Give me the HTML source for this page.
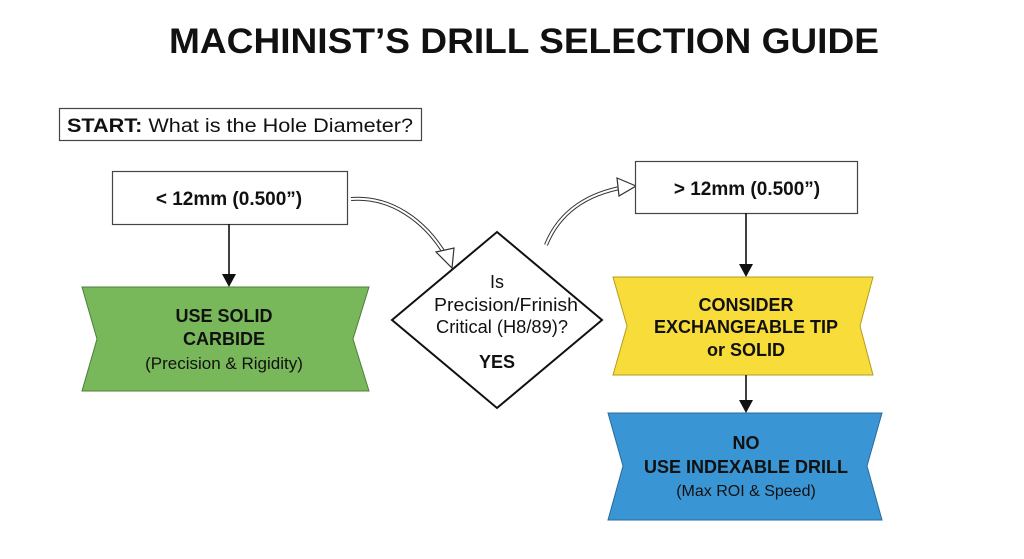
<!DOCTYPE html>
<html><head><style>
body{margin:0;width:1024px;height:559px;background:#fff;overflow:hidden;font-family:"Liberation Sans",sans-serif}
svg{position:absolute;left:0;top:0}
text{font-family:"Liberation Sans",sans-serif;fill:#111}
</style></head><body>
<svg width="1024" height="559" viewBox="0 0 1024 559">
<text x="524" y="53" text-anchor="middle" font-size="35" font-weight="bold" textLength="710" lengthAdjust="spacingAndGlyphs">MACHINIST’S DRILL SELECTION GUIDE</text>
<rect x="59.5" y="108.5" width="362" height="32" fill="#fff" stroke="#444" stroke-width="1.2"/>
<text x="240" y="132" text-anchor="middle" font-size="19" textLength="346" lengthAdjust="spacingAndGlyphs"><tspan font-weight="bold">START:</tspan> What is the Hole Diameter?</text>
<rect x="112.5" y="171.5" width="235" height="53" fill="#fff" stroke="#444" stroke-width="1.2"/>
<text x="229" y="205" text-anchor="middle" font-size="19" font-weight="bold">&lt; 12mm (0.500”)</text>
<line x1="229" y1="224" x2="229" y2="276" stroke="#111" stroke-width="1.6"/>
<polygon points="222,274 236,274 229,287" fill="#111"/>
<polygon points="82,287 369,287 353,339 369,391 82,391 97,339" fill="#78b75a" stroke="#4f7f3a" stroke-width="1"/>
<text x="224" y="322" text-anchor="middle" font-size="18" font-weight="bold">USE SOLID</text>
<text x="224" y="345" text-anchor="middle" font-size="18" font-weight="bold">CARBIDE</text>
<text x="224" y="369" text-anchor="middle" font-size="17">(Precision &amp; Rigidity)</text>
<polygon points="497,232 602,320 497,408 392,320" fill="#fff" stroke="#111" stroke-width="2"/>
<text x="497" y="288" text-anchor="middle" font-size="18">Is</text>
<text x="506" y="311" text-anchor="middle" font-size="18" textLength="144" lengthAdjust="spacingAndGlyphs">Precision/Frinish</text>
<text x="502" y="333" text-anchor="middle" font-size="18" textLength="132" lengthAdjust="spacingAndGlyphs">Critical (H8/89)?</text>
<text x="497" y="368" text-anchor="middle" font-size="18" font-weight="bold">YES</text>
<path d="M351,199 C390,196 425,220 446,256" fill="none" stroke="#333" stroke-width="4"/>
<path d="M351,199 C390,196 425,220 446,256" fill="none" stroke="#fff" stroke-width="2"/>
<polygon points="436,252 452,268 454,248" fill="#fff" stroke="#333" stroke-width="1.2"/>
<path d="M546,245 C560,210 590,193 625,187" fill="none" stroke="#333" stroke-width="4"/>
<path d="M546,245 C560,210 590,193 625,187" fill="none" stroke="#fff" stroke-width="2"/>
<polygon points="617,178 636,186 619,196" fill="#fff" stroke="#333" stroke-width="1.2"/>
<rect x="635.5" y="161.5" width="222" height="52" fill="#fff" stroke="#444" stroke-width="1.2"/>
<text x="747" y="195" text-anchor="middle" font-size="19" font-weight="bold">&gt; 12mm (0.500”)</text>
<line x1="746" y1="213" x2="746" y2="266" stroke="#111" stroke-width="1.6"/>
<polygon points="739,264 753,264 746,277" fill="#111"/>
<polygon points="613,277 873,277 860,326 873,375 613,375 627,326" fill="#f7dc3a" stroke="#b39d20" stroke-width="1"/>
<text x="746" y="311" text-anchor="middle" font-size="18" font-weight="bold">CONSIDER</text>
<text x="746" y="333" text-anchor="middle" font-size="18" font-weight="bold">EXCHANGEABLE TIP</text>
<text x="746" y="356" text-anchor="middle" font-size="18" font-weight="bold">or SOLID</text>
<line x1="746" y1="375" x2="746" y2="402" stroke="#111" stroke-width="1.6"/>
<polygon points="739,400 753,400 746,413" fill="#111"/>
<polygon points="608,413 882,413 867,466 882,520 608,520 623,466" fill="#3a95d4" stroke="#2a6a9a" stroke-width="1"/>
<text x="746" y="449" text-anchor="middle" font-size="18" font-weight="bold">NO</text>
<text x="746" y="473" text-anchor="middle" font-size="18" font-weight="bold">USE INDEXABLE DRILL</text>
<text x="746" y="496" text-anchor="middle" font-size="16">(Max ROI &amp; Speed)</text>
</svg>
</body></html>
